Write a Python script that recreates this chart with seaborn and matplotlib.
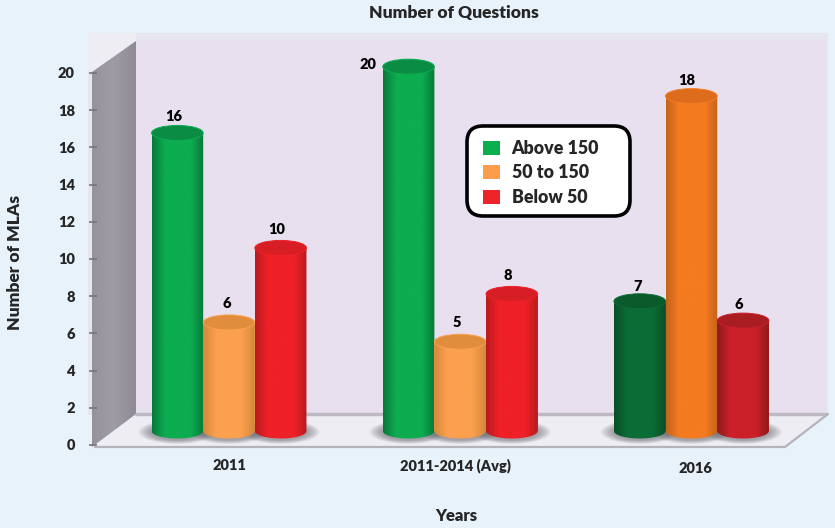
import numpy as np
import pandas as pd
import seaborn as sb
import matplotlib.pyplot as plt
from matplotlib.colors import LinearSegmentedColormap
from matplotlib.patches import Ellipse, FancyBboxPatch, Patch, PathPatch, Polygon, Rectangle
from matplotlib.path import Path
from matplotlib.transforms import ScaledTranslation

# Chart values. Printed labels, then the bar heights as they were drawn in the picture
years = ['2011', '2011-2014 (Avg)', '2016']
groups = ['Above 150', '50 to 150', 'Below 50']
above_150 = [16, 20, 7]
from_50_to_150 = [6, 5, 18]
below_50 = [10, 8, 6]
above_150_drawn = [16.2, 19.8, 7.05]
from_50_to_150_drawn = [5.9, 4.85, 18.2]
below_50_drawn = [9.95, 7.45, 6.0]
y_ticks = list(range(0, 21, 2))

W, H = 835, 528
PAGE = '#E8F2FB'
WALL = '#E8E0EE'
WEIGHT = 'heavy'

# (edge, centre, top) for each bar, same order as the patches from barplot
bar_colors = [
    ('#07783A', '#0DAC50', '#0B8C44'), ('#07783A', '#0DAC50', '#0B8C44'), ('#0A4F27', '#0B6C36', '#0A5A2C'),
    ('#D4873A', '#FBA04E', '#E08E3E'), ('#D4873A', '#FBA04E', '#E08E3E'), ('#C4631A', '#F47B20', '#DD6C1C'),
    ('#B81B21', '#EF2027', '#D61E24'), ('#B81B21', '#EF2027', '#D61E24'), ('#8E191C', '#CB2029', '#A81C22'),
]
# label offsets from the top of each bar, in pixels
label_dx = [-4, -41, -2, -2, -3, -5, -4, -4, -4]
label_dy = [16, 2, 15, 19, 19, 16, 18, 18, 16]
legend_colors = ['#0BAE4E', '#FB9D4B', '#EE2329']

df = pd.DataFrame({
    'Year': years * 3,
    'Group': np.repeat(groups, 3),
    'MLAs': above_150_drawn + from_50_to_150_drawn + below_50_drawn,
})
printed = above_150 + from_50_to_150 + below_50

sb.set_theme(style='white')
plt.rcParams['font.family'] = ['Lato', 'DejaVu Sans']
plt.rcParams['font.weight'] = WEIGHT

fig = plt.figure(figsize=(W / 100, H / 100), dpi=100, facecolor=PAGE)


def px_axes(left, top, right, bottom, z):
    ax = fig.add_axes([left / W, 1 - bottom / H, (right - left) / W, (bottom - top) / H], zorder=z)
    ax.patch.set_alpha(0)
    return ax


# Box walls and floor, drawn in pixels
bg = px_axes(0, 0, W, H, 0)
bg.axis('off')
bg.add_patch(Rectangle((88, 33), 740, 382, fc='#E7E6F0', ec='none', zorder=1))
bg.add_patch(Rectangle((136, 40), 690, 375, fc=WALL, ec='none', zorder=1))
bg.add_patch(Polygon([(88, 33), (136, 33), (136, 41), (92, 72), (88, 72)], fc='#EDEDF3', ec='none', zorder=1))
left_wall = bg.imshow(np.linspace(0, 1, 64)[None, :], extent=(92, 136, 447, 41), aspect='auto', zorder=2,
                      cmap=LinearSegmentedColormap.from_list('w', ['#97939C', '#A09BA5', '#8F8B94']))
left_wall.set_clip_path(PathPatch(Path([(92, 72), (136, 41), (136, 414), (92, 447), (92, 72)]), transform=bg.transData))
bg.add_patch(Polygon([(95, 447), (136, 415), (828, 415), (785, 447)], fc='#EDEDF3', ec='none', zorder=3))
bg.plot([136, 826], [414, 414], color='#BDBAC4', lw=2.5, zorder=4)
bg.plot([95, 785, 828], [447, 447, 414], color='#B4B3BA', lw=1.6, zorder=4)
bg.set_xlim(0, W)
bg.set_ylim(H, 0)

# Axis with the tick labels
GROUP_PX = 231.2
ZERO_PX = 229
ax = px_axes(97, 73, 785, 445, 1)
ax.set_xlim((97 - ZERO_PX) / GROUP_PX, (785 - ZERO_PX) / GROUP_PX)
ax.set_ylim(0, 20)
ax.set_yticks(y_ticks)
ax.set_xticks(range(len(years)))
ax.set_xticklabels(years)
ax.tick_params(axis='y', length=6, width=1.2, color='#77757C', labelsize=10.5, pad=10, left=True)
ax.tick_params(axis='x', length=0, labelsize=10.5, pad=10)
for spine in ax.spines.values():
    spine.set_visible(False)
for lbl, (dx, dy) in zip(ax.get_xticklabels(), [(0, 0), (-5, 0), (4, -3)]):
    lbl.set_transform(lbl.get_transform() + ScaledTranslation(dx / 100, dy / 100, fig.dpi_scale_trans))
ax.set_xlabel('Years', fontsize=12, fontweight=WEIGHT, va='center')
ax.xaxis.set_label_coords(456 / W, 1 - 516 / H, transform=fig.transFigure)
ax.set_ylabel('Number of MLAs', fontsize=12.5, fontweight=WEIGHT, va='center')
ax.yaxis.set_label_coords(15 / W, 1 - 262 / H, transform=fig.transFigure)
fig.suptitle('Number of Questions', x=454 / W, y=1 - 13 / H, va='center', fontsize=12.5, fontweight=WEIGHT)

# Bars, on a scale where zero sits on the floor
UNIT_PX = 18.4
BASE_PX = 431
bars = px_axes(0, 0, W, H, 2)
sb.barplot(data=df, x='Year', y='MLAs', hue='Group', order=years, hue_order=groups,
           width=0.67, gap=0, legend=False, ax=bars)
xlim = (-ZERO_PX / GROUP_PX, (W - ZERO_PX) / GROUP_PX)
ylim = ((BASE_PX - H) / UNIT_PX, BASE_PX / UNIT_PX)
bars.axis('off')

ell_h = 15 / UNIT_PX
bar_patches = [p for p in bars.patches if p.get_height() > 0]
for i, p in enumerate(bar_patches):
    edge, centre, top_c = bar_colors[i]
    x0, w, top = p.get_x(), p.get_width(), p.get_height()
    cx = x0 + w / 2
    z = 3 + i
    p.set_facecolor(centre)
    p.set_edgecolor('none')
    p.set_zorder(z)

    # soft shadow on the floor
    for grow in np.linspace(1.5, 1.05, 8):
        bars.add_patch(Ellipse((cx, -1 / UNIT_PX), w * grow, ell_h * grow * 1.05, fc='#55555C',
                               ec='none', alpha=0.08, zorder=2))

    # shaded body with a rounded foot
    t = np.linspace(np.pi, 2 * np.pi, 40)
    foot = np.column_stack([cx + w / 2 * np.cos(t), ell_h / 2 * np.sin(t)])
    body = np.vstack([[[x0, top]], foot, [[x0 + w, top]], [[x0, top]]])
    cmap = LinearSegmentedColormap.from_list('bar' + str(i), [edge, centre, centre, centre, edge])
    img = bars.imshow(np.linspace(0, 1, 128)[None, :], extent=(x0, x0 + w, -ell_h, top), origin='lower',
                      aspect='auto', cmap=cmap, zorder=z)
    img.set_clip_path(PathPatch(Path(body), transform=bars.transData))

    # lid of the cylinder
    bars.add_patch(Ellipse((cx, top), w, ell_h, fc=top_c, ec=centre, lw=0.7, zorder=z))

    bars.annotate(str(printed[i]), (cx, top), xytext=(label_dx[i], label_dy[i]), textcoords='offset pixels',
                  ha='center', va='center', fontsize=10.5, fontweight=WEIGHT, color='black', zorder=20)

bars.set_xlim(*xlim)
bars.set_ylim(*ylim)

# Legend box, frame drawn in pixels so it can be wider than its entries
leg_ax = px_axes(0, 0, W, H, 3)
leg_ax.set_xlim(0, W)
leg_ax.set_ylim(H, 0)
leg_ax.axis('off')
leg_ax.add_patch(FancyBboxPatch((467, 126), 163, 90, boxstyle='round,pad=0,rounding_size=16',
                                fc='white', ec='black', lw=2.6))
handles = [Patch(fc=c, ec='none', label=g) for c, g in zip(legend_colors, groups)]
leg_ax.legend(handles=handles, loc='upper left', bbox_to_anchor=(483, 140), bbox_transform=leg_ax.transData,
              frameon=False, handlelength=0.96, handleheight=0.8, handletextpad=0.65,
              labelspacing=0.42, borderpad=0, borderaxespad=0,
              prop={'family': ['Lato', 'DejaVu Sans'], 'weight': WEIGHT, 'size': 12.8})

fig.savefig('out.png', dpi=100, facecolor=PAGE)
